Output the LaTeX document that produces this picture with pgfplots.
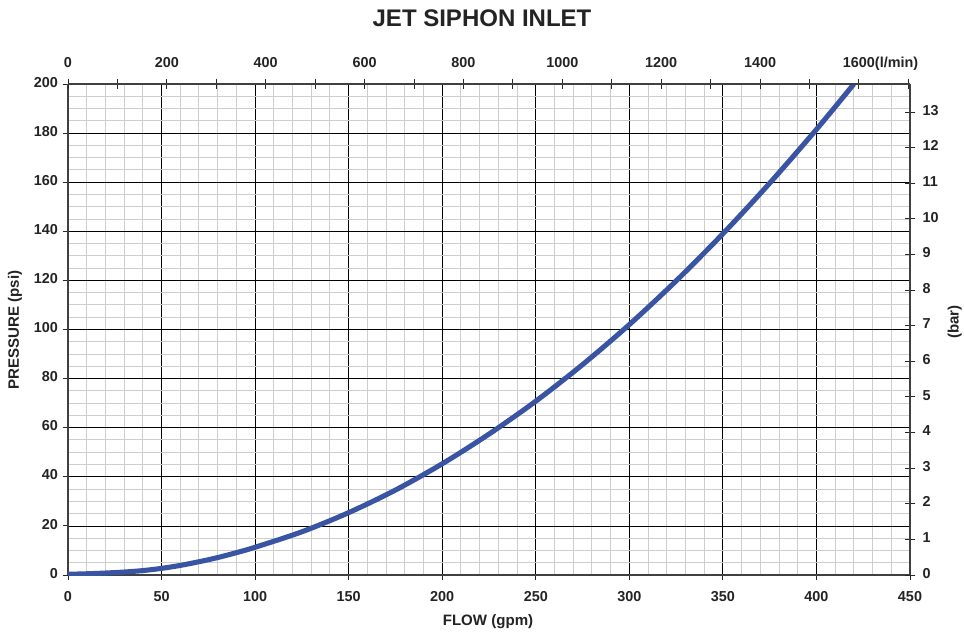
\documentclass[border=0pt]{standalone}
\usepackage{pgfplots}
\pgfplotsset{compat=1.18}
\usepackage{fontspec}
\setmainfont{Liberation Sans}
\definecolor{curve}{RGB}{58,84,164}
\definecolor{minorgrid}{RGB}{205,205,205}
\definecolor{txt}{RGB}{35,35,35}
\begin{document}
\begin{tikzpicture}[x=1pt,y=1pt]
\useasboundingbox (-51,-42.75) rectangle (672,431.25);
\pgfplotsset{every axis/.append style={scale only axis, width=631.5pt, height=368.25pt,
  font=\bfseries\fontsize{10.8}{12}\selectfont, /pgf/number format/assume math mode=true,
  tick style={black!85, line width=0.7pt}, axis line style={line width=0.9pt, black!75},
  ticklabel style={text=txt}, typeset ticklabels with strut}}
\begin{axis}[
  at={(0,0)}, anchor=south west,
  xmin=0, xmax=450, ymin=0, ymax=200,
  xtick distance=50, ytick distance=20,
  minor x tick num=4, minor y tick num=3,
  grid=both,
  major grid style={black, line width=0.6pt},
  minor grid style={minorgrid, line width=0.75pt},
  axis x line*=bottom, axis y line*=left,
  tick align=outside, major tick length=4pt, minor tick length=0pt,
  xticklabel style={yshift=-4pt},
]
\addplot[curve, line width=3.8pt, smooth] coordinates {
(0,0.3) (10,0.5) (20,0.8) (30,1.2) (40,1.8) (50,2.7) (60,3.9) (70,5.4) (80,7.1) (90,9.1)
(100,11.3) (125,17.6) (150,25.4) (175,34.6) (200,45.3) (225,57.4) (250,70.8) (275,85.7)
(300,102) (325,119.8) (350,139) (375,159.6) (400,181.5) (420,200)
};
\end{axis}
% top axis: l/min
\begin{axis}[
  at={(0,0)}, anchor=south west,
  xmin=0, xmax=1703.25, ymin=0, ymax=200,
  axis x line*=top, axis y line=none,
  xtick={0,200,400,600,800,1000,1200,1400,1600},
  xticklabels={0,200,400,600,800,1000,1200,1400,{1600\rlap{(l/min)}}},
  minor xtick={100,300,500,700,900,1100,1300,1500,1700},
  tick align=center, major tick length=8pt, minor tick length=8pt,
  xticklabel style={yshift=1pt},
]
\end{axis}
% right axis: bar
\begin{axis}[
  at={(0,0)}, anchor=south west,
  xmin=0, xmax=450, ymin=0, ymax=13.7895,
  axis y line*=right, axis x line=none,
  ytick={0,1,...,13},
  tick align=center, major tick length=8pt,
  yticklabel style={xshift=2pt},
]
\end{axis}
\node[font=\bfseries\fontsize{18}{21}\selectfont, text=txt] at (310.5,417.75) {JET SIPHON INLET};
\node[font=\bfseries\fontsize{11.3}{13}\selectfont, text=txt, rotate=90] at (-39.75,183.75) {PRESSURE (psi)};
\node[font=\bfseries\fontsize{11.3}{13}\selectfont, text=txt] at (315,-35.25) {FLOW (gpm)};
\node[font=\bfseries\fontsize{11.3}{13}\selectfont, text=txt, rotate=90] at (665,189.75) {(bar)};
\end{tikzpicture}
\end{document}
